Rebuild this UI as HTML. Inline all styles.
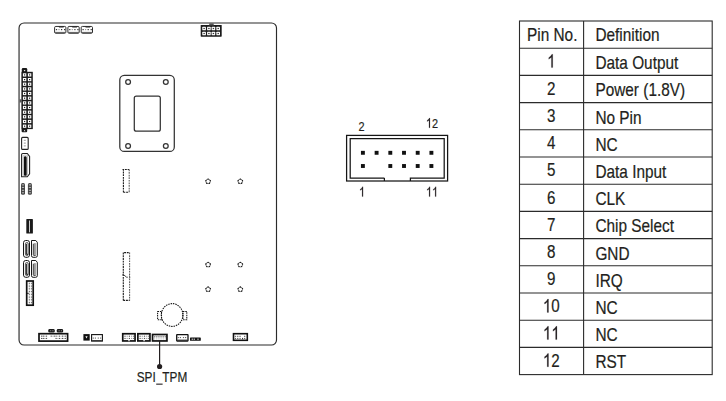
<!DOCTYPE html>
<html><head><meta charset="utf-8"><style>
html,body{margin:0;padding:0;background:#fff;width:726px;height:401px;overflow:hidden}
svg{position:absolute;left:0;top:0;display:block}
text{font-family:"Liberation Sans", sans-serif}
</style></head><body>
<svg width="726" height="401" viewBox="0 0 726 401">
<g stroke="#2b2b2b" stroke-width="1.1" fill="none">
<rect x="519.5" y="21.0" width="192.7" height="353.60"/>
<line x1="519.5" y1="48.20" x2="712.2" y2="48.20"/>
<line x1="519.5" y1="75.40" x2="712.2" y2="75.40"/>
<line x1="519.5" y1="102.60" x2="712.2" y2="102.60"/>
<line x1="519.5" y1="129.80" x2="712.2" y2="129.80"/>
<line x1="519.5" y1="157.00" x2="712.2" y2="157.00"/>
<line x1="519.5" y1="184.20" x2="712.2" y2="184.20"/>
<line x1="519.5" y1="211.40" x2="712.2" y2="211.40"/>
<line x1="519.5" y1="238.60" x2="712.2" y2="238.60"/>
<line x1="519.5" y1="265.80" x2="712.2" y2="265.80"/>
<line x1="519.5" y1="293.00" x2="712.2" y2="293.00"/>
<line x1="519.5" y1="320.20" x2="712.2" y2="320.20"/>
<line x1="519.5" y1="347.40" x2="712.2" y2="347.40"/>
<line x1="583.6" y1="21.0" x2="583.6" y2="374.60"/>
</g>
<text transform="translate(527.0,40.8) scale(0.855,1)" text-anchor="start" font-size="18" fill="#231f20" stroke="#231f20" stroke-width="0.2">Pin No.</text>
<text transform="translate(595.4,40.6) scale(0.855,1)" text-anchor="start" font-size="18" fill="#231f20" stroke="#231f20" stroke-width="0.2">Definition</text>
<path transform="translate(547.08,67.6) scale(0.00741,-0.00903)" d="M763 0H583V1147C540 1106 483 1064 413 1023C343 982 280 951 224 930V1104C325 1151 413 1209 488 1276C563 1343 617 1409 649 1472H763Z" fill="#231f20" stroke="#231f20" stroke-width="22.1"/>
<text transform="translate(595.4,69.2) scale(0.855,1)" text-anchor="start" font-size="18" fill="#231f20" stroke="#231f20" stroke-width="0.2">Data Output</text>
<text transform="translate(551.3,94.80000000000001) scale(0.82,1)" text-anchor="middle" font-size="18.5" fill="#231f20" stroke="#231f20" stroke-width="0.2">2</text>
<text transform="translate(595.4,96.4) scale(0.855,1)" text-anchor="start" font-size="18" fill="#231f20" stroke="#231f20" stroke-width="0.2">Power (1.8V)</text>
<text transform="translate(551.3,122.0) scale(0.82,1)" text-anchor="middle" font-size="18.5" fill="#231f20" stroke="#231f20" stroke-width="0.2">3</text>
<text transform="translate(595.4,123.6) scale(0.855,1)" text-anchor="start" font-size="18" fill="#231f20" stroke="#231f20" stroke-width="0.2">No Pin</text>
<text transform="translate(551.3,149.20000000000002) scale(0.82,1)" text-anchor="middle" font-size="18.5" fill="#231f20" stroke="#231f20" stroke-width="0.2">4</text>
<text transform="translate(595.4,150.8) scale(0.855,1)" text-anchor="start" font-size="18" fill="#231f20" stroke="#231f20" stroke-width="0.2">NC</text>
<text transform="translate(551.3,176.4) scale(0.82,1)" text-anchor="middle" font-size="18.5" fill="#231f20" stroke="#231f20" stroke-width="0.2">5</text>
<text transform="translate(595.4,178.0) scale(0.855,1)" text-anchor="start" font-size="18" fill="#231f20" stroke="#231f20" stroke-width="0.2">Data Input</text>
<text transform="translate(551.3,203.6) scale(0.82,1)" text-anchor="middle" font-size="18.5" fill="#231f20" stroke="#231f20" stroke-width="0.2">6</text>
<text transform="translate(595.4,205.2) scale(0.855,1)" text-anchor="start" font-size="18" fill="#231f20" stroke="#231f20" stroke-width="0.2">CLK</text>
<text transform="translate(551.3,230.8) scale(0.82,1)" text-anchor="middle" font-size="18.5" fill="#231f20" stroke="#231f20" stroke-width="0.2">7</text>
<text transform="translate(595.4,232.4) scale(0.855,1)" text-anchor="start" font-size="18" fill="#231f20" stroke="#231f20" stroke-width="0.2">Chip Select</text>
<text transform="translate(551.3,258.0) scale(0.82,1)" text-anchor="middle" font-size="18.5" fill="#231f20" stroke="#231f20" stroke-width="0.2">8</text>
<text transform="translate(595.4,259.6) scale(0.855,1)" text-anchor="start" font-size="18" fill="#231f20" stroke="#231f20" stroke-width="0.2">GND</text>
<text transform="translate(551.3,285.19999999999993) scale(0.82,1)" text-anchor="middle" font-size="18.5" fill="#231f20" stroke="#231f20" stroke-width="0.2">9</text>
<text transform="translate(595.4,286.79999999999995) scale(0.855,1)" text-anchor="start" font-size="18" fill="#231f20" stroke="#231f20" stroke-width="0.2">IRQ</text>
<path transform="translate(542.86,312.4) scale(0.00741,-0.00903)" d="M763 0H583V1147C540 1106 483 1064 413 1023C343 982 280 951 224 930V1104C325 1151 413 1209 488 1276C563 1343 617 1409 649 1472H763Z" fill="#231f20" stroke="#231f20" stroke-width="22.1"/>
<text transform="translate(551.30,312.4) scale(0.82,1)" font-size="18.5" fill="#231f20" stroke="#231f20" stroke-width="0.2">0</text>
<text transform="translate(595.4,314.0) scale(0.855,1)" text-anchor="start" font-size="18" fill="#231f20" stroke="#231f20" stroke-width="0.2">NC</text>
<path transform="translate(542.86,339.59999999999997) scale(0.00741,-0.00903)" d="M763 0H583V1147C540 1106 483 1064 413 1023C343 982 280 951 224 930V1104C325 1151 413 1209 488 1276C563 1343 617 1409 649 1472H763Z" fill="#231f20" stroke="#231f20" stroke-width="22.1"/>
<path transform="translate(551.30,339.59999999999997) scale(0.00741,-0.00903)" d="M763 0H583V1147C540 1106 483 1064 413 1023C343 982 280 951 224 930V1104C325 1151 413 1209 488 1276C563 1343 617 1409 649 1472H763Z" fill="#231f20" stroke="#231f20" stroke-width="22.1"/>
<text transform="translate(595.4,341.2) scale(0.855,1)" text-anchor="start" font-size="18" fill="#231f20" stroke="#231f20" stroke-width="0.2">NC</text>
<path transform="translate(542.86,366.79999999999995) scale(0.00741,-0.00903)" d="M763 0H583V1147C540 1106 483 1064 413 1023C343 982 280 951 224 930V1104C325 1151 413 1209 488 1276C563 1343 617 1409 649 1472H763Z" fill="#231f20" stroke="#231f20" stroke-width="22.1"/>
<text transform="translate(551.30,366.79999999999995) scale(0.82,1)" font-size="18.5" fill="#231f20" stroke="#231f20" stroke-width="0.2">2</text>
<text transform="translate(595.4,368.4) scale(0.855,1)" text-anchor="start" font-size="18" fill="#231f20" stroke="#231f20" stroke-width="0.2">RST</text>
<g stroke="#151515" fill="none" stroke-width="1.25">
<rect x="346.6" y="135.4" width="101" height="45.6"/>
<path d="M384.4 178 H350.2 V138.5 H444.2 V178 H410.4 V181"/>
<path d="M384.4 178 V181"/>
</g>
<rect x="360.95" y="150.85" width="3.9" height="3.9" fill="#111"/>
<rect x="360.95" y="164.05" width="3.9" height="3.9" fill="#111"/>
<rect x="374.65" y="150.85" width="3.9" height="3.9" fill="#111"/>
<rect x="388.35" y="150.85" width="3.9" height="3.9" fill="#111"/>
<rect x="388.35" y="164.05" width="3.9" height="3.9" fill="#111"/>
<rect x="402.05" y="150.85" width="3.9" height="3.9" fill="#111"/>
<rect x="402.05" y="164.05" width="3.9" height="3.9" fill="#111"/>
<rect x="415.75" y="150.85" width="3.9" height="3.9" fill="#111"/>
<rect x="415.75" y="164.05" width="3.9" height="3.9" fill="#111"/>
<rect x="429.45" y="150.85" width="3.9" height="3.9" fill="#111"/>
<rect x="429.45" y="164.05" width="3.9" height="3.9" fill="#111"/>
<text transform="translate(358.6,130.8) scale(0.8,1)" text-anchor="start" font-size="13.6" fill="#231f20" stroke="#231f20" stroke-width="0.2">2</text>
<path transform="translate(425.90,127.8) scale(0.00531,-0.00664)" d="M763 0H583V1147C540 1106 483 1064 413 1023C343 982 280 951 224 930V1104C325 1151 413 1209 488 1276C563 1343 617 1409 649 1472H763Z" fill="#231f20" stroke="#231f20" stroke-width="30.1"/>
<text transform="translate(431.95,127.8) scale(0.8,1)" font-size="13.6" fill="#231f20" stroke="#231f20" stroke-width="0.2">2</text>
<path transform="translate(359.00,196.6) scale(0.00531,-0.00664)" d="M763 0H583V1147C540 1106 483 1064 413 1023C343 982 280 951 224 930V1104C325 1151 413 1209 488 1276C563 1343 617 1409 649 1472H763Z" fill="#231f20" stroke="#231f20" stroke-width="30.1"/>
<path transform="translate(426.00,196.6) scale(0.00531,-0.00664)" d="M763 0H583V1147C540 1106 483 1064 413 1023C343 982 280 951 224 930V1104C325 1151 413 1209 488 1276C563 1343 617 1409 649 1472H763Z" fill="#231f20" stroke="#231f20" stroke-width="30.1"/>
<path transform="translate(432.05,196.6) scale(0.00531,-0.00664)" d="M763 0H583V1147C540 1106 483 1064 413 1023C343 982 280 951 224 930V1104C325 1151 413 1209 488 1276C563 1343 617 1409 649 1472H763Z" fill="#231f20" stroke="#231f20" stroke-width="30.1"/>
<rect x="19.05" y="23.0" width="257.45" height="322.0" rx="5" fill="none" stroke="#2b2b2b" stroke-width="1.15"/>
<rect x="54.6" y="26.45" width="11.3" height="6.8" rx="1.2" fill="#fff" stroke="#222" stroke-width="0.95"/>
<path d="M58.5 26.4 h5.6 l-0.6 1.0 h-4.4z" fill="#222"/>
<rect x="54.7" y="31.9" width="10.9" height="1.1" fill="#666"/>
<rect x="55.9" y="29.0" width="1.2" height="1.2" fill="#333"/>
<rect x="58.4" y="29.0" width="1.2" height="1.2" fill="#999"/>
<rect x="61.0" y="29.0" width="1.2" height="1.2" fill="#333"/>
<rect x="64.0" y="29.0" width="1.2" height="1.2" fill="#333"/>
<rect x="67.9" y="26.45" width="11.3" height="6.8" rx="1.2" fill="#fff" stroke="#222" stroke-width="0.95"/>
<path d="M71.8 26.4 h5.6 l-0.6 1.0 h-4.4z" fill="#222"/>
<rect x="68.0" y="31.9" width="10.9" height="1.1" fill="#666"/>
<rect x="69.2" y="29.0" width="1.2" height="1.2" fill="#333"/>
<rect x="71.7" y="29.0" width="1.2" height="1.2" fill="#999"/>
<rect x="74.3" y="29.0" width="1.2" height="1.2" fill="#333"/>
<rect x="77.3" y="29.0" width="1.2" height="1.2" fill="#333"/>
<rect x="81.2" y="26.45" width="11.3" height="6.8" rx="1.2" fill="#fff" stroke="#222" stroke-width="0.95"/>
<path d="M85.1 26.4 h5.6 l-0.6 1.0 h-4.4z" fill="#222"/>
<rect x="81.3" y="31.9" width="10.9" height="1.1" fill="#666"/>
<rect x="82.5" y="29.0" width="1.2" height="1.2" fill="#333"/>
<rect x="85.0" y="29.0" width="1.2" height="1.2" fill="#999"/>
<rect x="87.6" y="29.0" width="1.2" height="1.2" fill="#333"/>
<rect x="90.6" y="29.0" width="1.2" height="1.2" fill="#333"/>
<rect x="200.7" y="25" width="21" height="11.7" rx="0.6" fill="#1a1a1a"/>
<rect x="209.2" y="23.4" width="4.5" height="2" fill="#555"/>
<rect x="202.3" y="26.7" width="3.6" height="3.6" rx="0.5" fill="#fff"/>
<rect x="203.4" y="27.9" width="1.4" height="1.2" fill="#333"/>
<rect x="202.3" y="31.7" width="3.6" height="3.6" rx="0.5" fill="#fff"/>
<rect x="203.4" y="32.9" width="1.4" height="1.2" fill="#333"/>
<rect x="207.1" y="26.7" width="3.6" height="3.6" rx="0.5" fill="#fff"/>
<rect x="208.2" y="27.9" width="1.4" height="1.2" fill="#333"/>
<rect x="207.1" y="31.7" width="3.6" height="3.6" rx="0.5" fill="#fff"/>
<rect x="208.2" y="32.9" width="1.4" height="1.2" fill="#333"/>
<rect x="211.6" y="26.7" width="3.6" height="3.6" rx="0.5" fill="#fff"/>
<rect x="212.7" y="27.9" width="1.4" height="1.2" fill="#333"/>
<rect x="211.6" y="31.7" width="3.6" height="3.6" rx="0.5" fill="#fff"/>
<rect x="212.7" y="32.9" width="1.4" height="1.2" fill="#333"/>
<rect x="216.4" y="26.7" width="3.6" height="3.6" rx="0.5" fill="#fff"/>
<rect x="217.5" y="27.9" width="1.4" height="1.2" fill="#333"/>
<rect x="216.4" y="31.7" width="3.6" height="3.6" rx="0.5" fill="#fff"/>
<rect x="217.5" y="32.9" width="1.4" height="1.2" fill="#333"/>
<rect x="21.4" y="71.8" width="11.4" height="57.3" fill="#1a1a1a"/>
<path d="M21.8 71.9 V69.2 Q21.8 68 23 68 H26 Q27.2 68 27.2 69.2 V71.9Z" fill="#1a1a1a"/>
<path d="M23.7 69.9 H25.5 L24.6 71.4Z" fill="#fff"/>
<path d="M21.6 129 V131.2 Q21.6 132.3 22.7 132.3 H26.1 Q27.2 132.3 27.2 131.2 V129Z" fill="#1a1a1a"/>
<path d="M23.7 131.3 H25.5 L24.6 129.8Z" fill="#fff"/>
<rect x="22.9" y="73.3" width="3.4" height="3.2" fill="#fff"/>
<rect x="24.0" y="74.3" width="1.2" height="1.2" fill="#222"/>
<rect x="27.9" y="73.3" width="3.4" height="3.2" fill="#fff"/>
<rect x="29.0" y="74.3" width="1.2" height="1.2" fill="#222"/>
<rect x="22.9" y="78.0" width="3.4" height="3.2" fill="#fff"/>
<rect x="24.0" y="79.0" width="1.2" height="1.2" fill="#222"/>
<rect x="27.9" y="78.0" width="3.4" height="3.2" fill="#fff"/>
<rect x="29.0" y="79.0" width="1.2" height="1.2" fill="#222"/>
<rect x="22.9" y="82.6" width="3.4" height="3.2" fill="#fff"/>
<rect x="24.0" y="83.6" width="1.2" height="1.2" fill="#222"/>
<rect x="27.9" y="82.6" width="3.4" height="3.2" fill="#fff"/>
<rect x="29.0" y="83.6" width="1.2" height="1.2" fill="#222"/>
<rect x="22.9" y="87.3" width="3.4" height="3.2" fill="#fff"/>
<rect x="24.0" y="88.3" width="1.2" height="1.2" fill="#222"/>
<rect x="27.9" y="87.3" width="3.4" height="3.2" fill="#fff"/>
<rect x="29.0" y="88.3" width="1.2" height="1.2" fill="#222"/>
<rect x="22.9" y="91.9" width="3.4" height="3.2" fill="#fff"/>
<rect x="24.0" y="92.9" width="1.2" height="1.2" fill="#222"/>
<rect x="27.9" y="91.9" width="3.4" height="3.2" fill="#fff"/>
<rect x="29.0" y="92.9" width="1.2" height="1.2" fill="#222"/>
<rect x="22.9" y="96.6" width="3.4" height="3.2" fill="#fff"/>
<rect x="24.0" y="97.6" width="1.2" height="1.2" fill="#222"/>
<rect x="27.9" y="96.6" width="3.4" height="3.2" fill="#fff"/>
<rect x="29.0" y="97.6" width="1.2" height="1.2" fill="#222"/>
<rect x="22.9" y="101.3" width="3.4" height="3.2" fill="#fff"/>
<rect x="24.0" y="102.3" width="1.2" height="1.2" fill="#222"/>
<rect x="27.9" y="101.3" width="3.4" height="3.2" fill="#fff"/>
<rect x="29.0" y="102.3" width="1.2" height="1.2" fill="#222"/>
<rect x="22.9" y="105.9" width="3.4" height="3.2" fill="#fff"/>
<rect x="24.0" y="106.9" width="1.2" height="1.2" fill="#222"/>
<rect x="27.9" y="105.9" width="3.4" height="3.2" fill="#fff"/>
<rect x="29.0" y="106.9" width="1.2" height="1.2" fill="#222"/>
<rect x="22.9" y="110.6" width="3.4" height="3.2" fill="#fff"/>
<rect x="24.0" y="111.6" width="1.2" height="1.2" fill="#222"/>
<rect x="27.9" y="110.6" width="3.4" height="3.2" fill="#fff"/>
<rect x="29.0" y="111.6" width="1.2" height="1.2" fill="#222"/>
<rect x="22.9" y="115.2" width="3.4" height="3.2" fill="#fff"/>
<rect x="24.0" y="116.2" width="1.2" height="1.2" fill="#222"/>
<rect x="27.9" y="115.2" width="3.4" height="3.2" fill="#fff"/>
<rect x="29.0" y="116.2" width="1.2" height="1.2" fill="#222"/>
<rect x="22.9" y="119.9" width="3.4" height="3.2" fill="#fff"/>
<rect x="24.0" y="120.9" width="1.2" height="1.2" fill="#222"/>
<rect x="27.9" y="119.9" width="3.4" height="3.2" fill="#fff"/>
<rect x="29.0" y="120.9" width="1.2" height="1.2" fill="#222"/>
<rect x="22.9" y="124.6" width="3.4" height="3.2" fill="#fff"/>
<rect x="24.0" y="125.6" width="1.2" height="1.2" fill="#222"/>
<rect x="27.9" y="124.6" width="3.4" height="3.2" fill="#fff"/>
<rect x="29.0" y="125.6" width="1.2" height="1.2" fill="#222"/>
<rect x="19.6" y="99.3" width="2.2" height="3.2" fill="#555"/>
<rect x="21.6" y="137.4" width="6.6" height="12" rx="1" fill="#fff" stroke="#222" stroke-width="1.1"/>
<rect x="23.8" y="139.8" width="2" height="1" fill="#999"/>
<rect x="23.8" y="142.6" width="2" height="1" fill="#999"/>
<rect x="23.8" y="145.4" width="2" height="1" fill="#999"/>
<path d="M21.6 154.6 Q21.6 153.5 22.7 153.5 H27.3 L29.6 156.4 V173.9 L27.3 176.8 H21.6 Z" fill="#fff" stroke="#222" stroke-width="1.1"/>
<rect x="23.2" y="155.2" width="4.3" height="20.4" rx="0.8" fill="none" stroke="#999" stroke-width="0.6"/>
<rect x="23.9" y="156.3" width="2.8" height="19.5" rx="1.3" fill="#111"/>
<rect x="21.0" y="183.1" width="4" height="11.7" rx="1.6" fill="#444"/>
<rect x="21.9" y="184.4" width="2.2" height="1.0" fill="#bbb"/>
<rect x="21.9" y="186.9" width="2.2" height="1.0" fill="#bbb"/>
<rect x="21.9" y="189.8" width="2.2" height="1.0" fill="#bbb"/>
<rect x="21.9" y="192.3" width="2.2" height="1.0" fill="#bbb"/>
<rect x="27.9" y="183.1" width="4" height="11.7" rx="1.6" fill="#444"/>
<rect x="28.799999999999997" y="184.4" width="2.2" height="1.0" fill="#bbb"/>
<rect x="28.799999999999997" y="186.9" width="2.2" height="1.0" fill="#bbb"/>
<rect x="28.799999999999997" y="189.8" width="2.2" height="1.0" fill="#bbb"/>
<rect x="28.799999999999997" y="192.3" width="2.2" height="1.0" fill="#bbb"/>
<rect x="26.3" y="219.1" width="6.6" height="14.5" rx="0.6" fill="#1a1a1a"/>
<rect x="29.0" y="220.5" width="1.0" height="11.8" fill="#ccc"/>
<rect x="23.5" y="240.5" width="6" height="16.8" rx="2.2" fill="#fff" stroke="#161616" stroke-width="1.0"/>
<rect x="25.4" y="242.5" width="2.9" height="13" rx="1.3" fill="#d0d0d0" stroke="#444" stroke-width="0.8"/>
<path d="M26.4 244.0 V254.3 H28" fill="none" stroke="#111" stroke-width="0.9"/>
<path d="M31.5 240.5 H35.8 L37.3 242.3 V255.7 Q37.3 257.3 35.7 257.3 H33.1 Q31.5 257.3 31.5 255.7 Z" fill="#fff" stroke="#161616" stroke-width="1.0"/>
<rect x="33.9" y="243.0" width="2.0" height="12.3" rx="0.8" fill="#9a9a9a"/>
<path d="M33.3 243.7 V254.8 Q33.3 255.5 34.3 255.5 H35.6" fill="none" stroke="#222" stroke-width="0.9"/>
<rect x="23.5" y="260.5" width="6" height="16.8" rx="2.2" fill="#fff" stroke="#161616" stroke-width="1.0"/>
<rect x="25.4" y="262.5" width="2.9" height="13" rx="1.3" fill="#d0d0d0" stroke="#444" stroke-width="0.8"/>
<path d="M26.4 264.0 V274.3 H28" fill="none" stroke="#111" stroke-width="0.9"/>
<path d="M31.5 260.5 H35.8 L37.3 262.3 V275.7 Q37.3 277.3 35.7 277.3 H33.1 Q31.5 277.3 31.5 275.7 Z" fill="#fff" stroke="#161616" stroke-width="1.0"/>
<rect x="33.9" y="263.0" width="2.0" height="12.3" rx="0.8" fill="#9a9a9a"/>
<path d="M33.3 263.7 V274.8 Q33.3 275.5 34.3 275.5 H35.6" fill="none" stroke="#222" stroke-width="0.9"/>
<rect x="26.7" y="281.0" width="6.5" height="24.2" fill="#fff" stroke="#111" stroke-width="1.7"/>
<g stroke="#c8c8c8" stroke-width="0.6">
<line x1="29.3" y1="282.5" x2="29.3" y2="304"/><line x1="31.4" y1="282.5" x2="31.4" y2="304"/>
</g>
<rect x="28.8" y="282.8" width="1.1" height="1.0" fill="#666"/>
<rect x="30.9" y="282.8" width="1.1" height="1.0" fill="#666"/>
<rect x="28.8" y="285.6" width="1.1" height="1.0" fill="#666"/>
<rect x="30.9" y="285.6" width="1.1" height="1.0" fill="#666"/>
<rect x="28.8" y="288.3" width="1.1" height="1.0" fill="#666"/>
<rect x="30.9" y="288.3" width="1.1" height="1.0" fill="#666"/>
<rect x="28.8" y="291.1" width="1.1" height="1.0" fill="#666"/>
<rect x="30.9" y="291.1" width="1.1" height="1.0" fill="#666"/>
<rect x="28.8" y="293.8" width="1.1" height="1.0" fill="#666"/>
<rect x="30.9" y="293.8" width="1.1" height="1.0" fill="#666"/>
<rect x="28.8" y="296.6" width="1.1" height="1.0" fill="#666"/>
<rect x="30.9" y="296.6" width="1.1" height="1.0" fill="#666"/>
<rect x="28.8" y="299.3" width="1.1" height="1.0" fill="#666"/>
<rect x="30.9" y="299.3" width="1.1" height="1.0" fill="#666"/>
<rect x="28.8" y="302.1" width="1.1" height="1.0" fill="#666"/>
<rect x="30.9" y="302.1" width="1.1" height="1.0" fill="#666"/>
<rect x="27.2" y="292.8" width="1.4" height="1.2" fill="#1a1a1a"/>
<g fill="none" stroke="#333" stroke-width="1.25">
<rect x="119.8" y="75.4" width="54.5" height="76" rx="4.5"/>
<rect x="134.3" y="96.1" width="26" height="35.1" rx="2"/>
<circle cx="128.1" cy="82.0" r="2.4"/>
<circle cx="128.1" cy="146.0" r="2.4"/>
<circle cx="165.8" cy="82.0" r="2.4"/>
<circle cx="165.8" cy="146.0" r="2.4"/>
</g>
<path d="M123.4 192.3 V169.5 H129.2" fill="none" stroke="#1a1a1a" stroke-width="1.1" stroke-dasharray="1.9 0.8"/>
<path d="M129.2 169.5 V192.3" fill="none" stroke="#5a5a5a" stroke-width="1.05" stroke-dasharray="1.7 0.9"/>
<path d="M123.4 192.3 H129.2" fill="none" stroke="#1a1a1a" stroke-width="1.1" stroke-dasharray="1.9 0.8"/>
<path d="M123.3 300.4 V252.6 H129.6" fill="none" stroke="#1a1a1a" stroke-width="1.1" stroke-dasharray="1.9 0.8"/>
<path d="M129.6 252.6 V300.4" fill="none" stroke="#5a5a5a" stroke-width="1.05" stroke-dasharray="1.7 0.9"/>
<path d="M123.3 300.4 H129.6" fill="none" stroke="#1a1a1a" stroke-width="1.1" stroke-dasharray="1.9 0.8"/>
<path d="M122.6 169.5 H124" stroke="#1a1a1a" stroke-width="1.1"/>
<path d="M122.2 274.9 H123.8 L126.6 277.2 H127.8" fill="none" stroke="#333" stroke-width="0.9"/>
<path d="M129.2 275.0 L129.9 275.7 M129.9 277.3 L129.3 278.2" fill="none" stroke="#333" stroke-width="0.8"/>
<circle cx="208.1" cy="181.4" r="2.25" fill="none" stroke="#6a6a6a" stroke-width="0.9"/>
<circle cx="208.10" cy="179.10" r="0.68" fill="#111"/>
<circle cx="210.29" cy="180.69" r="0.68" fill="#111"/>
<circle cx="209.45" cy="183.26" r="0.68" fill="#111"/>
<circle cx="206.75" cy="183.26" r="0.68" fill="#111"/>
<circle cx="205.91" cy="180.69" r="0.68" fill="#111"/>
<circle cx="208.1" cy="264.7" r="2.25" fill="none" stroke="#6a6a6a" stroke-width="0.9"/>
<circle cx="208.10" cy="262.40" r="0.68" fill="#111"/>
<circle cx="210.29" cy="263.99" r="0.68" fill="#111"/>
<circle cx="209.45" cy="266.56" r="0.68" fill="#111"/>
<circle cx="206.75" cy="266.56" r="0.68" fill="#111"/>
<circle cx="205.91" cy="263.99" r="0.68" fill="#111"/>
<circle cx="208.1" cy="289.3" r="2.25" fill="none" stroke="#6a6a6a" stroke-width="0.9"/>
<circle cx="208.10" cy="287.00" r="0.68" fill="#111"/>
<circle cx="210.29" cy="288.59" r="0.68" fill="#111"/>
<circle cx="209.45" cy="291.16" r="0.68" fill="#111"/>
<circle cx="206.75" cy="291.16" r="0.68" fill="#111"/>
<circle cx="205.91" cy="288.59" r="0.68" fill="#111"/>
<circle cx="240.3" cy="181.4" r="2.25" fill="none" stroke="#6a6a6a" stroke-width="0.9"/>
<circle cx="240.30" cy="179.10" r="0.68" fill="#111"/>
<circle cx="242.49" cy="180.69" r="0.68" fill="#111"/>
<circle cx="241.65" cy="183.26" r="0.68" fill="#111"/>
<circle cx="238.95" cy="183.26" r="0.68" fill="#111"/>
<circle cx="238.11" cy="180.69" r="0.68" fill="#111"/>
<circle cx="240.3" cy="264.7" r="2.25" fill="none" stroke="#6a6a6a" stroke-width="0.9"/>
<circle cx="240.30" cy="262.40" r="0.68" fill="#111"/>
<circle cx="242.49" cy="263.99" r="0.68" fill="#111"/>
<circle cx="241.65" cy="266.56" r="0.68" fill="#111"/>
<circle cx="238.95" cy="266.56" r="0.68" fill="#111"/>
<circle cx="238.11" cy="263.99" r="0.68" fill="#111"/>
<circle cx="240.3" cy="289.3" r="2.25" fill="none" stroke="#6a6a6a" stroke-width="0.9"/>
<circle cx="240.30" cy="287.00" r="0.68" fill="#111"/>
<circle cx="242.49" cy="288.59" r="0.68" fill="#111"/>
<circle cx="241.65" cy="291.16" r="0.68" fill="#111"/>
<circle cx="238.95" cy="291.16" r="0.68" fill="#111"/>
<circle cx="238.11" cy="288.59" r="0.68" fill="#111"/>
<g fill="none" stroke="#111" stroke-width="1.05" stroke-dasharray="1.5 0.9">
<ellipse cx="172.1" cy="315.0" rx="10.8" ry="11.4"/>
<rect x="157.6" y="311.4" width="3.9" height="8.3"/>
<rect x="182.9" y="311.4" width="3.9" height="8.3"/>
</g>
<rect x="39.0" y="333.7" width="28.6" height="7.4" fill="#fff" stroke="#111" stroke-width="1.7"/>
<rect x="48.3" y="329.1" width="6.4" height="3.3" rx="1.2" fill="#1a1a1a"/>
<rect x="56.8" y="329.1" width="6.3" height="3.3" rx="1.2" fill="#1a1a1a"/>
<rect x="50.2" y="330.4" width="1" height="0.8" fill="#bbb"/>
<rect x="52.4" y="330.4" width="1" height="0.8" fill="#bbb"/>
<rect x="58.6" y="330.4" width="1" height="0.8" fill="#bbb"/>
<rect x="60.9" y="330.4" width="1" height="0.8" fill="#bbb"/>
<rect x="42.15" y="335.7" width="1.0" height="0.9" fill="#aaa"/>
<rect x="44.60" y="335.7" width="1.0" height="0.9" fill="#aaa"/>
<rect x="52.25" y="335.7" width="1.0" height="0.9" fill="#aaa"/>
<rect x="57.25" y="335.7" width="1.0" height="0.9" fill="#aaa"/>
<rect x="60.45" y="335.7" width="1.0" height="0.9" fill="#aaa"/>
<rect x="63.40" y="335.7" width="1.0" height="0.9" fill="#aaa"/>
<rect x="42.15" y="338.0" width="1.0" height="0.9" fill="#aaa"/>
<rect x="44.60" y="338.0" width="1.0" height="0.9" fill="#aaa"/>
<rect x="57.25" y="338.0" width="1.0" height="0.9" fill="#aaa"/>
<rect x="60.45" y="338.0" width="1.0" height="0.9" fill="#aaa"/>
<rect x="63.40" y="338.0" width="1.0" height="0.9" fill="#aaa"/>
<rect x="41.0" y="335.6" width="1.2" height="1.1" fill="#555"/>
<rect x="41.0" y="337.9" width="1.2" height="1.1" fill="#555"/>
<rect x="43.1" y="335.6" width="1.2" height="1.1" fill="#555"/>
<rect x="43.1" y="337.9" width="1.2" height="1.1" fill="#555"/>
<rect x="45.9" y="335.6" width="1.2" height="1.1" fill="#555"/>
<rect x="45.9" y="337.9" width="1.2" height="1.1" fill="#555"/>
<rect x="50.6" y="335.6" width="1.2" height="1.1" fill="#555"/>
<rect x="53.7" y="335.6" width="1.2" height="1.1" fill="#555"/>
<rect x="55.5" y="335.6" width="1.2" height="1.1" fill="#555"/>
<rect x="55.5" y="337.9" width="1.2" height="1.1" fill="#555"/>
<rect x="58.8" y="335.6" width="1.2" height="1.1" fill="#555"/>
<rect x="58.8" y="337.9" width="1.2" height="1.1" fill="#555"/>
<rect x="61.9" y="335.6" width="1.2" height="1.1" fill="#555"/>
<rect x="61.9" y="337.9" width="1.2" height="1.1" fill="#555"/>
<rect x="64.7" y="335.6" width="1.2" height="1.1" fill="#555"/>
<rect x="64.7" y="337.9" width="1.2" height="1.1" fill="#555"/>
<rect x="83.4" y="334.1" width="6.3" height="6.5" fill="#111"/>
<path d="M85.4 336.2 H87.6 L86.5 338.6Z" fill="#fff"/>
<rect x="91.6" y="334.6" width="10.8" height="6.5" fill="#fff" stroke="#111" stroke-width="1.1"/>
<rect x="92.1" y="340.1" width="9.8" height="1.0" fill="#333"/>
<rect x="92.7" y="337.5" width="1.2" height="1.2" fill="#777"/>
<rect x="94.8" y="337.5" width="1.2" height="1.2" fill="#777"/>
<rect x="97.7" y="337.5" width="1.2" height="1.2" fill="#777"/>
<rect x="100.0" y="337.5" width="1.2" height="1.2" fill="#777"/>
<rect x="122.75" y="333.75" width="12.3" height="7.2" fill="#fff" stroke="#111" stroke-width="1.7"/>
<rect x="124.4" y="335.7" width="1.2" height="1.0" fill="#444"/>
<rect x="124.4" y="337.9" width="1.2" height="1.0" fill="#444"/>
<rect x="126.6" y="335.7" width="1.2" height="1.0" fill="#999"/>
<rect x="126.6" y="337.9" width="1.2" height="1.0" fill="#999"/>
<rect x="128.8" y="335.7" width="1.2" height="1.0" fill="#444"/>
<rect x="128.8" y="337.9" width="1.2" height="1.0" fill="#444"/>
<rect x="131.0" y="335.7" width="1.2" height="1.0" fill="#999"/>
<rect x="131.0" y="337.9" width="1.2" height="1.0" fill="#999"/>
<rect x="133.2" y="335.7" width="1.2" height="1.0" fill="#444"/>
<rect x="133.2" y="337.9" width="1.2" height="1.0" fill="#444"/>
<rect x="128.2" y="340.2" width="1.6" height="1.0" fill="#fff"/>
<rect x="137.85" y="333.75" width="12.1" height="7.2" fill="#fff" stroke="#111" stroke-width="1.7"/>
<rect x="139.5" y="335.7" width="1.2" height="1.0" fill="#444"/>
<rect x="139.5" y="337.9" width="1.2" height="1.0" fill="#444"/>
<rect x="141.7" y="335.7" width="1.2" height="1.0" fill="#999"/>
<rect x="141.7" y="337.9" width="1.2" height="1.0" fill="#999"/>
<rect x="143.9" y="335.7" width="1.2" height="1.0" fill="#444"/>
<rect x="143.9" y="337.9" width="1.2" height="1.0" fill="#444"/>
<rect x="146.1" y="335.7" width="1.2" height="1.0" fill="#999"/>
<rect x="146.1" y="337.9" width="1.2" height="1.0" fill="#999"/>
<rect x="148.3" y="335.7" width="1.2" height="1.0" fill="#444"/>
<rect x="148.3" y="337.9" width="1.2" height="1.0" fill="#444"/>
<rect x="143.3" y="340.2" width="1.6" height="1.0" fill="#fff"/>
<rect x="152.55" y="334.5" width="14.4" height="6.45" fill="#fff" stroke="#111" stroke-width="1.7"/>
<rect x="154.4" y="335.9" width="0.7" height="3.8" fill="#bbb"/>
<rect x="156.5" y="335.9" width="0.7" height="3.8" fill="#bbb"/>
<rect x="158.6" y="335.9" width="0.7" height="3.8" fill="#bbb"/>
<rect x="160.7" y="335.9" width="0.7" height="3.8" fill="#bbb"/>
<rect x="162.8" y="335.9" width="0.7" height="3.8" fill="#bbb"/>
<rect x="164.9" y="335.9" width="0.7" height="3.8" fill="#bbb"/>
<rect x="154.2" y="336.3" width="1.1" height="0.9" fill="#555"/>
<rect x="156.3" y="336.3" width="1.1" height="0.9" fill="#555"/>
<rect x="158.4" y="336.3" width="1.1" height="0.9" fill="#555"/>
<rect x="160.5" y="336.3" width="1.1" height="0.9" fill="#555"/>
<rect x="162.6" y="336.3" width="1.1" height="0.9" fill="#555"/>
<rect x="164.7" y="336.3" width="1.1" height="0.9" fill="#555"/>
<rect x="176.7" y="334.6" width="11.3" height="6.4" rx="0.4" fill="#fff" stroke="#111" stroke-width="1.3"/>
<rect x="177.2" y="339.6" width="10.3" height="1.2" fill="#333"/>
<rect x="177.7" y="337.0" width="1.2" height="1.1" fill="#666"/>
<rect x="179.8" y="337.0" width="1.2" height="1.1" fill="#666"/>
<rect x="182.9" y="337.0" width="1.2" height="1.1" fill="#666"/>
<rect x="185.0" y="337.0" width="1.2" height="1.1" fill="#666"/>
<rect x="190.0" y="337.5" width="10.8" height="3.3" rx="0.6" fill="#111"/>
<rect x="191.6" y="338.6" width="1.4" height="1.2" fill="#ccc"/>
<rect x="193.6" y="338.6" width="1.4" height="1.2" fill="#ccc"/>
<rect x="197.3" y="338.6" width="1.4" height="1.2" fill="#ccc"/>
<rect x="233.5" y="333.7" width="13.8" height="6.6" fill="#fff" stroke="#111" stroke-width="1.6"/>
<rect x="234.8" y="335.8" width="1.3" height="1.0" fill="#555"/>
<rect x="234.8" y="337.9" width="1.3" height="1.0" fill="#555"/>
<rect x="237.1" y="335.8" width="1.3" height="1.0" fill="#555"/>
<rect x="237.1" y="337.9" width="1.3" height="1.0" fill="#555"/>
<rect x="239.4" y="335.8" width="1.3" height="1.0" fill="#555"/>
<rect x="239.4" y="337.9" width="1.3" height="1.0" fill="#555"/>
<rect x="244.0" y="335.8" width="1.3" height="1.0" fill="#555"/>
<rect x="244.0" y="337.9" width="1.3" height="1.0" fill="#555"/>
<rect x="242.0" y="337.9" width="1.1" height="1.4" fill="#333"/>
<line x1="159.6" y1="341" x2="159.6" y2="366.5" stroke="#231f20" stroke-width="1.2"/>
<circle cx="159.6" cy="366.5" r="2.6" fill="#231f20"/>
<text transform="translate(136.7,382.3) scale(0.82,1)" text-anchor="start" font-size="14.4" fill="#231f20" stroke="#231f20" stroke-width="0.2">SPI</text>
<text transform="translate(162.3,382.3) scale(0.82,1)" text-anchor="start" font-size="14.4" fill="#231f20" stroke="#231f20" stroke-width="0.2">TPM</text>
<rect x="156.2" y="383.6" width="6.4" height="1.1" fill="#231f20"/>
</svg>
</body></html>
